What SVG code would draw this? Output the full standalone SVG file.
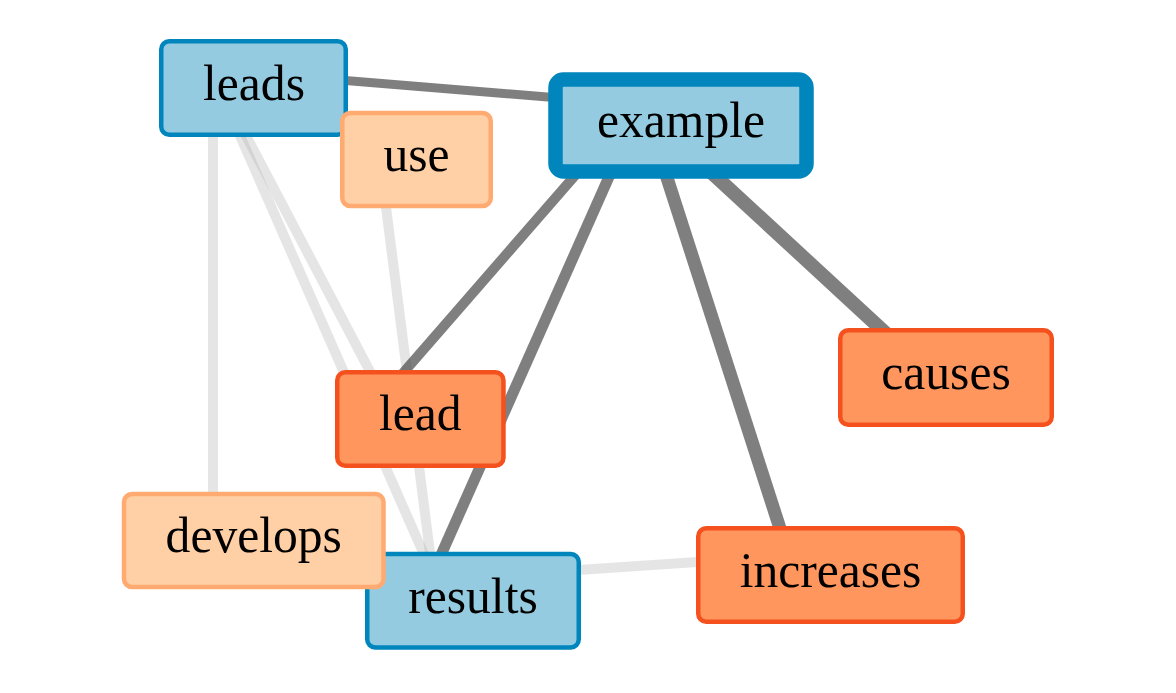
<svg xmlns="http://www.w3.org/2000/svg" width="1176" height="693" viewBox="0 0 1176 693">
<style>
.e-light{stroke:#aaaaaa;stroke-opacity:0.3;stroke-width:10;fill:none}
.e-dark{stroke:#3a3a3a;stroke-opacity:0.65;fill:none}
.n rect{rx:8;ry:8;stroke-width:4.5}
.blue rect{fill:#94cbe0;stroke:#0086bd}
.orange rect{fill:#ff965e;stroke:#f4511e}
.peach rect{fill:#ffcfa6;stroke:#ffaa70}
.n text{font-family:"Liberation Serif","Times New Roman",serif;font-size:49.6px;fill:#000;text-anchor:middle}
</style>
<rect width="1176" height="693" fill="#ffffff"/>
<g id="connectors">
<line class="e-light" x1="213" y1="90" x2="213" y2="540"/>
<line class="e-light" x1="222" y1="90" x2="395" y2="419"/>
<line class="e-light" x1="219" y1="88" x2="444" y2="600"/>
<line class="e-light" x1="380" y1="160" x2="436" y2="600"/>
<line class="e-light" x1="473" y1="577" x2="830" y2="553"/>
<line class="e-dark" stroke-width="9" x1="254" y1="73" x2="681" y2="108"/>
<line class="e-dark" stroke-width="10" x1="619" y1="125" x2="363" y2="419"/>
<line class="e-dark" stroke-width="11" x1="632" y1="125" x2="421" y2="600"/>
<line class="e-dark" stroke-width="13" x1="650" y1="125" x2="795" y2="575"/>
<line class="e-dark" stroke-width="14" x1="660" y1="125" x2="932" y2="376"/>
</g>
<g id="node-leads" class="n blue">
<rect x="161.25" y="41.25" width="184.5" height="93.5"/>
<text x="254" y="100">leads</text>
</g>
<g id="node-use" class="n peach">
<rect x="342.25" y="113" width="148.5" height="93"/>
<text x="416.5" y="171">use</text>
</g>
<g id="node-example" class="n blue">
<rect x="555.5" y="79.5" width="251" height="92" style="stroke-width:14.5"/>
<text x="681" y="137">example</text>
</g>
<g id="node-lead" class="n orange">
<rect x="337.25" y="372.25" width="166.2" height="93.5"/>
<text x="420.3" y="430">lead</text>
</g>
<g id="node-causes" class="n orange">
<rect x="840.25" y="330.25" width="211.5" height="94.5"/>
<text x="946" y="389">causes</text>
</g>
<g id="node-increases" class="n orange">
<rect x="698.25" y="528.25" width="264.5" height="93.5"/>
<text x="830.5" y="587">increases</text>
</g>
<g id="node-results" class="n blue">
<rect x="367.25" y="554" width="211.5" height="93.5"/>
<text x="473" y="613">results</text>
</g>
<g id="node-develops" class="n peach">
<rect x="124" y="494" width="259.5" height="93"/>
<text x="253.75" y="552">develops</text>
</g>
</svg>
